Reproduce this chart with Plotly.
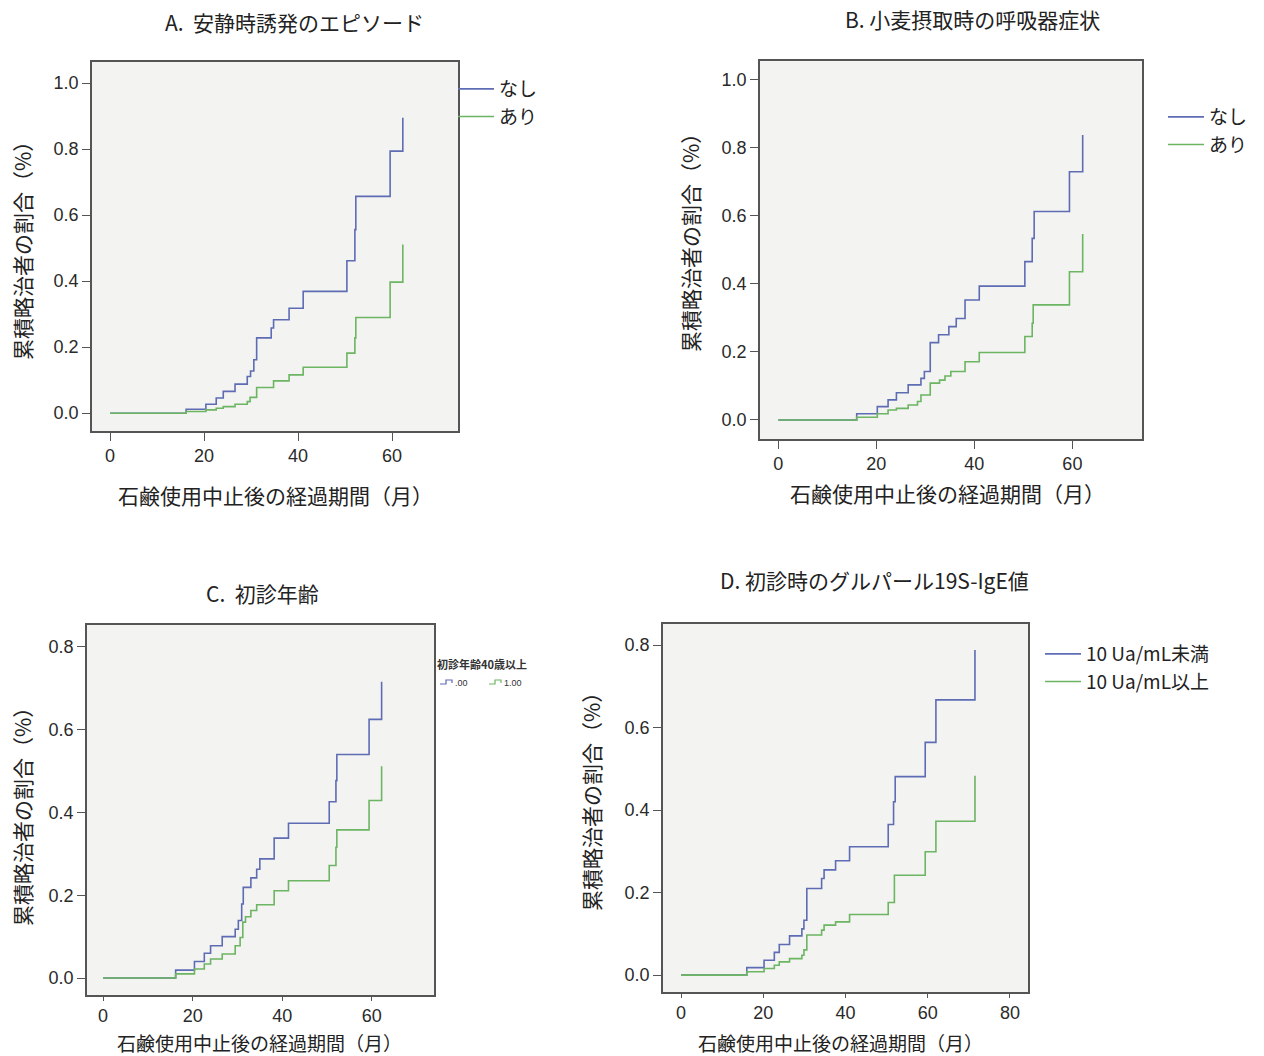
import plotly.graph_objects as go

# ---------------- data (months, cumulative proportion) ----------------
A_t_none = [0, 16.2, 20.4, 22.6, 24.1, 26.6, 29.2, 29.9, 30.6, 31.2, 34.3, 34.8, 38.1, 41.1, 50.4, 52.1, 52.3, 59.6, 62.3]
A_v_none = [0, 0.012, 0.027, 0.046, 0.066, 0.088, 0.111, 0.128, 0.162, 0.228, 0.258, 0.283, 0.318, 0.369, 0.462, 0.556, 0.657, 0.794, 0.895]
A_t_yes = [0, 16.2, 20.4, 22.6, 24.1, 26.6, 29.2, 29.8, 31.2, 34.8, 38.1, 41.1, 50.4, 52.1, 52.3, 59.6, 62.3]
A_v_yes = [0, 0.005, 0.010, 0.015, 0.020, 0.027, 0.035, 0.048, 0.078, 0.098, 0.116, 0.139, 0.182, 0.228, 0.290, 0.397, 0.511]

B_t_none = [0, 16.0, 20.2, 22.4, 24.1, 26.5, 29.1, 29.8, 31.0, 32.7, 34.8, 36.3, 38.1, 41.0, 50.3, 51.8, 52.2, 59.4, 62.1]
B_v_none = [0, 0.018, 0.039, 0.059, 0.080, 0.103, 0.122, 0.142, 0.227, 0.250, 0.274, 0.298, 0.352, 0.393, 0.465, 0.533, 0.612, 0.729, 0.837]
B_t_yes = [0, 16.0, 20.2, 22.4, 24.1, 26.5, 28.4, 29.1, 31.0, 32.9, 34.0, 35.2, 38.1, 41.0, 50.3, 51.8, 52.0, 59.4, 62.1]
B_v_yes = [0, 0.008, 0.018, 0.029, 0.034, 0.044, 0.054, 0.073, 0.108, 0.117, 0.129, 0.142, 0.171, 0.198, 0.245, 0.284, 0.338, 0.435, 0.546]

C_t_00 = [0, 16.2, 20.4, 22.6, 24.0, 26.6, 29.5, 30.2, 30.95, 31.3, 33.0, 34.3, 35.0, 38.2, 41.4, 50.5, 52.0, 52.2, 59.4, 62.2]
C_v_00 = [0, 0.019, 0.040, 0.060, 0.078, 0.100, 0.118, 0.139, 0.179, 0.219, 0.242, 0.263, 0.288, 0.338, 0.374, 0.426, 0.477, 0.540, 0.625, 0.716]
C_t_10 = [0, 16.2, 20.4, 22.6, 24.0, 26.6, 29.5, 30.6, 31.2, 31.8, 33.0, 34.3, 38.2, 41.4, 50.5, 52.0, 52.2, 59.4, 62.2]
C_v_10 = [0, 0.010, 0.022, 0.034, 0.046, 0.058, 0.078, 0.098, 0.135, 0.148, 0.163, 0.177, 0.211, 0.235, 0.272, 0.316, 0.358, 0.429, 0.512]

D_t_lo = [0, 16.0, 20.2, 22.7, 23.9, 26.4, 29.4, 29.9, 30.6, 34.2, 34.8, 37.6, 41.0, 50.4, 51.7, 52.1, 59.4, 62.0, 71.5]
D_v_lo = [0, 0.018, 0.036, 0.055, 0.074, 0.095, 0.112, 0.133, 0.210, 0.234, 0.255, 0.277, 0.311, 0.365, 0.420, 0.481, 0.564, 0.667, 0.788]
D_t_hi = [0, 16.0, 20.2, 22.7, 23.9, 26.4, 29.4, 29.9, 30.6, 34.2, 34.8, 37.6, 41.0, 50.4, 51.9, 59.4, 62.0, 71.5]
D_v_hi = [0, 0.008, 0.016, 0.024, 0.032, 0.040, 0.048, 0.061, 0.097, 0.109, 0.121, 0.129, 0.147, 0.176, 0.242, 0.299, 0.373, 0.483]

panel_titles = ["A.  安静時誘発のエピソード", "B. 小麦摂取時の呼吸器症状", "C.  初診年齢", "D. 初診時のグルパール19S-IgE値"]
x_title = "石鹸使用中止後の経過期間（月）"
y_title = "累積略治者の割合（%）"
names_AB = ["なし", "あり"]
names_C = [".00", "1.00"]
legend_C_title = "初診年齢40歳以上"
names_D = ["10 Ua/mL未満", "10 Ua/mL以上"]

# ---------------- styling ----------------
W, H = 1264, 1056
BLUE = "#5e6cb4"
GREEN = "#6cb562"
FRAME = "#555555"
CJK = "Noto Sans CJK JP"
NUM = "Liberation Sans"


def px_x(p):
    return p / W


def px_y(p):
    return 1 - p / H


fig = go.Figure()

panels = [
    ("", (92, 458), (62, 431), [-3.83, 74.04], [-0.054, 1.064],
     [(A_t_none, A_v_none, names_AB[0], BLUE), (A_t_yes, A_v_yes, names_AB[1], GREEN)], "legend", True, 8),
    ("2", (760, 1142), (61, 439), [-3.73, 74.2], [-0.056, 1.054],
     [(B_t_none, B_v_none, names_AB[0], BLUE), (B_t_yes, B_v_yes, names_AB[1], GREEN)], "legend2", True, 8),
    ("3", (87, 434), (625, 995), [-3.6, 73.9], [-0.041, 0.853],
     [(C_t_00, C_v_00, names_C[0], BLUE), (C_t_10, C_v_10, names_C[1], GREEN)], "legend3", False, 4),
    ("4", (663, 1028), (624, 992), [-4.38, 84.4], [-0.041, 0.851],
     [(D_t_lo, D_v_lo, names_D[0], BLUE), (D_t_hi, D_v_hi, names_D[1], GREEN)], "legend4", True, 4),
]

for key, xd, yd, xr, yr, series, leg, show, xtl in panels:
    for t, v, nm, col in series:
        fig.add_trace(go.Scatter(
            x=t, y=v, mode="lines", name=nm, line=dict(color=col, width=1.6, shape="hv"),
            xaxis="x" + key, yaxis="y" + key, legend=leg, showlegend=show, hoverinfo="skip"))
    axcommon = dict(showline=True, mirror=True, linecolor=FRAME, linewidth=1.5,
                    ticks="outside", tickcolor=FRAME, tickwidth=1.2,
                    showgrid=False, zeroline=False,
                    tickfont=dict(family=NUM, size=18, color="#2a2a2a"))
    fig.layout["xaxis" + key] = dict(domain=[px_x(xd[0]), px_x(xd[1])], range=xr, ticklen=xtl,
                                     anchor="y" + key, dtick=20, tick0=0, **axcommon)
    fig.layout["yaxis" + key] = dict(domain=[px_y(yd[1]), px_y(yd[0])], range=yr, ticklen=8,
                                     anchor="x" + key, dtick=0.2, tick0=0, tickformat=".1f", **axcommon)

annos = []
# panel titles
for txt, cx, cy in zip(panel_titles, [294, 972, 262, 874], [22, 19, 593, 580]):
    annos.append(dict(text=txt, x=px_x(cx), y=px_y(cy), xref="paper", yref="paper",
                      xanchor="center", yanchor="middle", showarrow=False,
                      font=dict(family=CJK, size=21, color="#222222")))
# x titles
for cx, cy, fs in [(275, 495, 21), (947, 493, 21), (259, 1042, 19), (840, 1042, 19)]:
    annos.append(dict(text=x_title, x=px_x(cx), y=px_y(cy), xref="paper", yref="paper",
                      xanchor="center", yanchor="middle", showarrow=False, borderpad=0,
                      font=dict(family=CJK, size=fs, color="#222222")))
# y titles
for cx, cy in [(22, 246), (690, 238), (22, 812), (591, 797)]:
    annos.append(dict(text=y_title, x=px_x(cx), y=px_y(cy), xref="paper", yref="paper",
                      xanchor="center", yanchor="middle", showarrow=False, textangle=-90,
                      font=dict(family=CJK, size=21, color="#222222")))

# small legend of panel C (SPSS style, drawn as text + step symbols)
annos.append(dict(text="<b>" + legend_C_title + "</b>", x=px_x(435), y=px_y(664), xref="paper", yref="paper",
                  xanchor="left", yanchor="middle", showarrow=False,
                  font=dict(family=CJK, size=11, color="#333333")))
shapes = []
for (sx, tx, nm, col) in [(440, 453, names_C[0], BLUE), (489, 502, names_C[1], GREEN)]:
    path = "M {a},{b} L {c},{b} L {c},{d} L {e},{d} L {e},{f}".format(
        a=px_x(sx), b=px_y(684), c=px_x(sx + 6), d=px_y(680), e=px_x(sx + 12), f=px_y(683))
    shapes.append(dict(type="path", path=path, xref="paper", yref="paper",
                       line=dict(color=col, width=1.2)))
    annos.append(dict(text=nm, x=px_x(tx), y=px_y(683), xref="paper", yref="paper",
                      xanchor="left", yanchor="middle", showarrow=False,
                      font=dict(family=NUM, size=9, color="#333333")))

legbase = dict(bgcolor="rgba(0,0,0,0)", borderwidth=0, xanchor="left", yanchor="top",
               font=dict(family=CJK, size=19, color="#222222"), tracegroupgap=0, itemwidth=36)

fig.update_layout(
    width=W, height=H, margin=dict(l=0, r=0, t=0, b=0),
    paper_bgcolor="white", plot_bgcolor="#f3f3f1",
    annotations=annos, shapes=shapes, showlegend=True,
    legend=dict(x=px_x(453), y=px_y(70), **legbase),
    legend2=dict(x=px_x(1163), y=px_y(98), **legbase),
    legend4=dict(x=px_x(1040), y=px_y(635), **legbase),
)

fig.write_html("out.html")
